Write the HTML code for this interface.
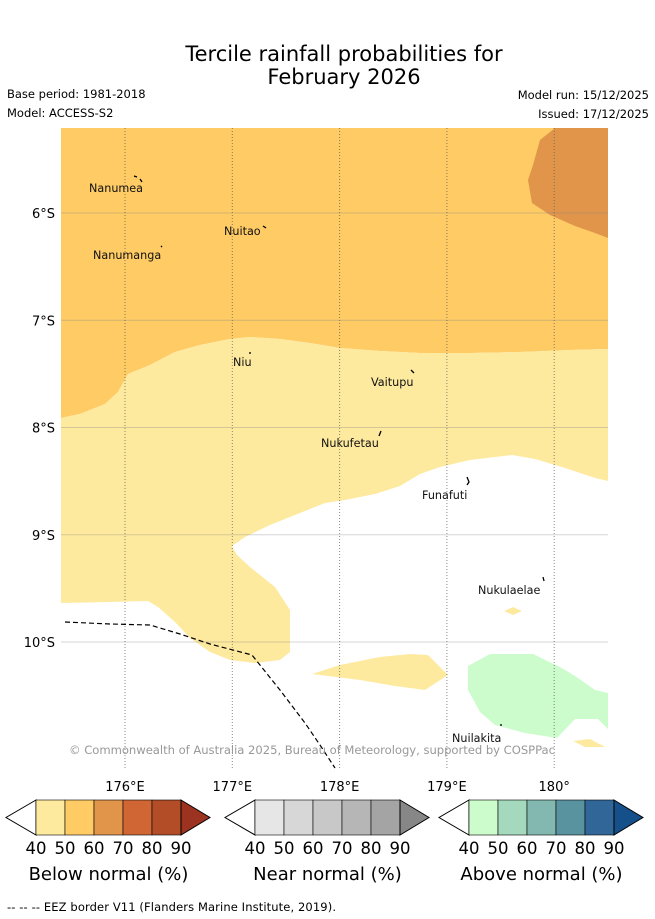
<!DOCTYPE html>
<html><head><meta charset="utf-8">
<style>
body{margin:0;background:#fff;width:655px;height:919px;overflow:hidden;font-family:"DejaVu Sans","Liberation Sans",sans-serif;}
svg{position:absolute;left:0;top:0}
</style></head>
<body>
<svg id="chart" width="655" height="919" viewBox="0 0 655 919" font-family="DejaVu Sans, Liberation Sans, sans-serif">
<text x="344" y="61" font-size="21" text-anchor="middle">Tercile rainfall probabilities for</text>
<text x="344" y="84" font-size="21" text-anchor="middle">February 2026</text>
<text x="7" y="98" font-size="11.5">Base period: 1981-2018</text>
<text x="7" y="117" font-size="11.5">Model: ACCESS-S2</text>
<text x="649" y="99" font-size="11.5" text-anchor="end">Model run: 15/12/2025</text>
<text x="649" y="118" font-size="11.5" text-anchor="end">Issued: 17/12/2025</text>

<defs><clipPath id="mapclip"><rect x="61" y="128" width="547" height="642"/></clipPath></defs>
<g clip-path="url(#mapclip)">
<rect x="61" y="128" width="547" height="642" fill="#fff"/>
<polygon fill="#fecb65" points="61,128 608,128 608,349 570,350 520,352 470,353 420,353 380,351 340,348 310,343 280,339 250,337 230,339 200,345 175,352 150,365 128,374 118,392 105,404 80,414 61,418"/>
<polygon fill="#e0954a" points="555,128 608,128 608,238 595,233 575,226 550,215 532,203 528,180 533,165 540,140"/>
<polygon fill="#feea9f" points="61,418 80,414 105,404 118,392 128,374 150,365 175,352 200,345 230,339 250,337 280,339 310,343 340,348 380,351 420,353 470,353 520,352 570,350 608,349 608,481 595,478 565,468 535,459 512,455 470,460 440,467 420,474 400,486 375,494 345,500 325,503 300,513 270,525 245,537 232,546 237,555 250,567 275,587 290,610 290,652 280,660 255,663 230,660 210,652 190,638 175,622 158,607 148,601 110,602 61,603"/>
<polygon fill="#feea9f" points="312,674 340,665 380,657 410,654 428,655 448,675 425,690 395,686 360,680"/>
<polygon fill="#feea9f" points="504,611 513,607 522,611 513,615"/>
<polygon fill="#feea9f" points="573,741 590,739 605,747 585,747"/>
<polygon fill="#ccfccc" points="468,666 490,654 533,654 560,667 575,676 595,690 608,693 608,729 598,719 575,719 557,738 525,733 495,725 480,712 468,690"/>
<g id="grid"></g>
<polyline fill="none" stroke="#000" stroke-width="1.2" stroke-dasharray="5,3" points="65,622 110,624 150,625 180,634 210,644 252,655 280,690 305,723 320,745 335,768"/>
<g font-size="11.2" fill="#111">
<text x="89" y="192">Nanumea</text>
<text x="224" y="235">Nuitao</text>
<text x="93" y="259">Nanumanga</text>
<text x="233" y="366">Niu</text>
<text x="371" y="386">Vaitupu</text>
<text x="321" y="447">Nukufetau</text>
<text x="422" y="499">Funafuti</text>
<text x="478" y="594">Nukulaelae</text>
<text x="452" y="742">Nuilakita</text>
</g>
<g stroke="#000" stroke-width="1.3" fill="none">
<path d="M134,176l3,1M140,179l2,3"/><path d="M263,226l3,2"/><path d="M161,246l1,1"/><path d="M250,352l0,2"/><path d="M411,370l3,3"/><path d="M381,431l-2,5"/><path d="M467,477l2,5l-2,3"/><path d="M543,577l1,4"/><path d="M500,725l2,0"/>
</g>
<text x="312" y="754" font-size="11.6" fill="#999" text-anchor="middle" textLength="486">© Commonwealth of Australia 2025, Bureau of Meteorology, supported by COSPPac</text>
</g>
<g id="axes"></g>
<g id="colorbars"></g>
<text x="7" y="911" font-size="11.5" textLength="329">--  --  -- EEZ border V11 (Flanders Marine Institute, 2019).</text>
</svg>
<script>
const lonTicks=[176,177,178,179,180];
const lonLabels=["176°E","177°E","178°E","179°E","180°"];
const latTicks=[6,7,8,9,10];
const latLabels=["6°S","7°S","8°S","9°S","10°S"];
const cbTicks=["40","50","60","70","80","90"];
const belowColors=["#feea9f","#fecb65","#e0954a","#cf6634","#b24d27","#9c3220"];
const nearColors=["#e6e6e6","#d7d7d7","#c8c8c8","#b6b6b6","#a4a4a4","#878787"];
const aboveColors=["#ccfccc","#a4d9bd","#82b8b0","#5a93a0","#316698","#16508a"];
const cbTitles=["Below normal (%)","Near normal (%)","Above normal (%)"];
const NS="http://www.w3.org/2000/svg";
function x(lon){return 125+(lon-176)*107.3;}
function y(lat){return 213+(lat-6)*107.25;}
function mk(t,a,p){const e=document.createElementNS(NS,t);for(const k in a)e.setAttribute(k,a[k]);p.appendChild(e);return e;}
const grid=document.getElementById('grid'),axes=document.getElementById('axes');
latTicks.forEach((v,i)=>{
 const l=mk('line',{x1:61,x2:608,y1:y(v),y2:y(v),stroke:'#888','stroke-opacity':0.35,'stroke-width':1},grid);
 
 
 const t=mk('text',{x:55,y:y(v)+5,'font-size':13,'text-anchor':'end'},axes);t.textContent=latLabels[i];
 
 
});
lonTicks.forEach((v,i)=>{
 const l=mk('line',{x1:x(v),x2:x(v),y1:128,y2:770,stroke:'#555','stroke-opacity':0.7,'stroke-width':1,'stroke-dasharray':'1,2'},grid);
 
 
 const t=mk('text',{x:x(v),y:791,'font-size':13,'text-anchor':'middle'},axes);t.textContent=lonLabels[i];
 
 
});
const cb=document.getElementById('colorbars');
[[belowColors,6],[nearColors,225],[aboveColors,439]].forEach((c,j)=>{
 const cols=c[0],x0=c[1],top=800,h=35,bx=x0+30,w=29;
 const g=mk('g',{},cb);
 
 
 mk('polygon',{points:`${bx},${top} ${x0},${top+h/2} ${bx},${top+h}`,fill:'#fff',stroke:'#000','stroke-width':1},g);
 for(let k=0;k<5;k++)mk('rect',{x:bx+k*w,y:top,width:w,height:h,fill:cols[k],stroke:'#000','stroke-width':0.6},g);
 const ex=bx+5*w;
 mk('polygon',{points:`${ex},${top} ${ex+29},${top+h/2} ${ex},${top+h}`,fill:cols[5],stroke:'#000','stroke-width':1},g);
 cbTicks.forEach((s,k)=>{const t=mk('text',{x:bx+k*w,y:top+h+19,'font-size':16.5,'text-anchor':'middle'},g);t.textContent=s;});
 const tt=mk('text',{x:bx+2.5*w,y:top+h+45,'font-size':18,'text-anchor':'middle'},g);tt.textContent=cbTitles[j];
});
</script>
</body></html>
